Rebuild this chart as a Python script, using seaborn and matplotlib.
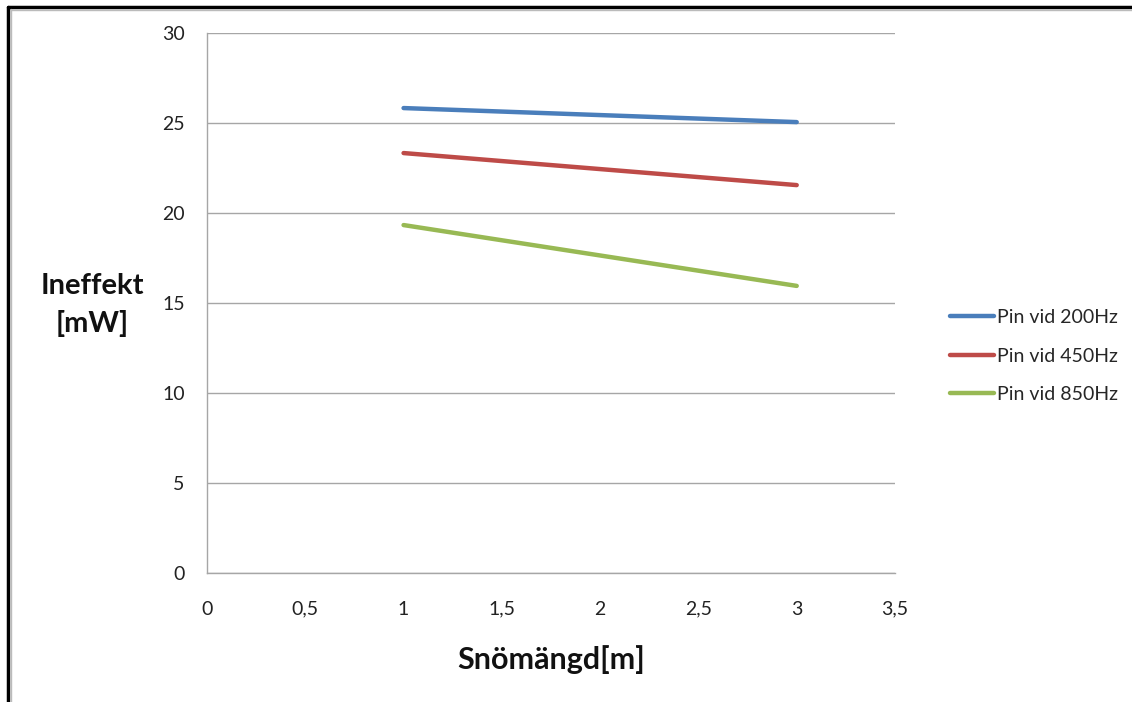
import matplotlib
matplotlib.use("Agg")
import matplotlib.pyplot as plt
import seaborn as sns
import pandas as pd
from matplotlib.lines import Line2D
from matplotlib.ticker import FuncFormatter, MultipleLocator

sns.set_theme(style="white")
plt.rcParams['font.family'] = ['Lato', 'DejaVu Sans']

x_values = [1, 3]
pin_200 = [25.83, 25.05]
pin_450 = [23.33, 21.55]
pin_850 = [19.33, 15.95]
series_names = ["Pin vid 200Hz", "Pin vid 450Hz", "Pin vid 850Hz"]
colors = ["#4a7ebb", "#be4b48", "#98b954"]

rows = []
for name, vals in zip(series_names, [pin_200, pin_450, pin_850]):
    for xv, yv in zip(x_values, vals):
        rows.append({"x": xv, "y": yv, "serie": name})
df = pd.DataFrame(rows)

fig = plt.figure(figsize=(11.32, 7.02), dpi=100)
ax = fig.add_axes([207/1132, 1-573/702, (895-207)/1132, (573-33)/702])

sns.lineplot(data=df, x="x", y="y", hue="serie", palette=colors, linewidth=3.2,
             ax=ax, legend=False, solid_capstyle="round")

ax.set_xlim(0, 3.5)
ax.set_ylim(0, 30)
ax.xaxis.set_major_locator(MultipleLocator(0.5))
ax.yaxis.set_major_locator(MultipleLocator(5))
fmt = FuncFormatter(lambda v, p: ("%g" % v).replace(".", ","))
ax.xaxis.set_major_formatter(fmt)
ax.yaxis.set_major_formatter(fmt)
ax.grid(axis="y", color="#a6a6a6", linewidth=1)
ax.set_axisbelow(True)
for s in ["top", "right"]:
    ax.spines[s].set_visible(False)
for s in ["left", "bottom"]:
    ax.spines[s].set_color("#a6a6a6")
    ax.spines[s].set_linewidth(1)
ax.tick_params(axis="both", which="major", direction="out", length=6, width=1,
               color="#a6a6a6", labelsize=14, labelcolor="#222222")
ax.tick_params(axis="x", pad=14)
ax.tick_params(axis="y", pad=10)
ax.set_xlabel("")
ax.set_ylabel("")

fig.text(92/1132, 1-305/702, "Ineffekt\n[mW]", ha="center", va="center",
         fontsize=21, fontweight="bold", linespacing=1.5, color="#111111")
fig.text(551/1132, 1-660/702, "Snömängd[m]", ha="center", va="center",
         fontsize=22, fontweight="bold", color="#111111")

handles = [Line2D([0], [0], color=c, linewidth=3.2) for c in colors]
leg = fig.legend(handles, series_names, loc="center left",
                 bbox_to_anchor=(932/1132, 1-356/702), frameon=False,
                 fontsize=14, handlelength=2.3, handletextpad=0.15,
                 labelspacing=1.1)

# outer frame (left and top black borders)
fig.add_artist(Line2D([8/1132, 8/1132], [0, 1-7/702], transform=fig.transFigure,
                      color="black", linewidth=2.5))
fig.add_artist(Line2D([8/1132, 1], [1-7/702, 1-7/702], transform=fig.transFigure,
                      color="black", linewidth=2.5))
fig.add_artist(Line2D([10.5/1132, 10.5/1132], [0, 1-9/702], transform=fig.transFigure,
                      color="#bbbbbb", linewidth=1))
fig.add_artist(Line2D([10.5/1132, 1], [1-9.5/702, 1-9.5/702], transform=fig.transFigure,
                      color="#bbbbbb", linewidth=1))

fig.savefig("out.png", dpi=100)
